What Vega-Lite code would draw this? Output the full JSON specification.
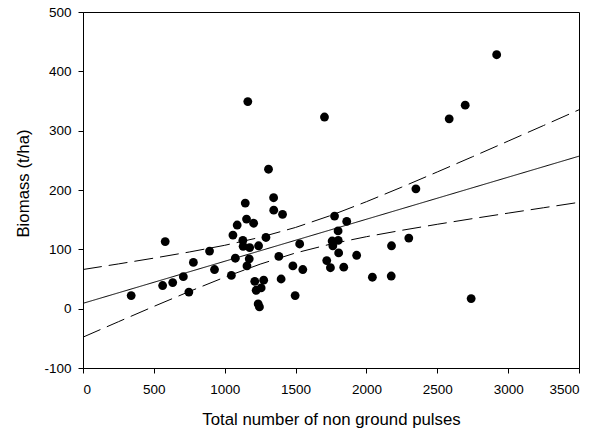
{
  "$schema": "https://vega.github.io/schema/vega-lite/v6.json",
  "autosize": "none",
  "width": 496,
  "height": 356,
  "padding": {"left": 83, "top": 12, "right": 16, "bottom": 63},
  "background": "white",
  "config": {
    "font": "Liberation Sans",
    "view": {"stroke": "#000000", "strokeWidth": 1},
    "axis": {
      "grid": false,
      "domainColor": "#000000",
      "tickColor": "#000000",
      "tickSize": 5,
      "labelColor": "#000000",
      "titleColor": "#000000",
      "labelFont": "Liberation Sans",
      "titleFont": "Liberation Sans",
      "labelFontSize": 13.5,
      "titleFontSize": 16.8,
      "titleFontWeight": "normal"
    }
  },
  "datasets": {
    "points": [
      {"pulses": 340, "biomass": 22},
      {"pulses": 562, "biomass": 39},
      {"pulses": 580, "biomass": 113},
      {"pulses": 633, "biomass": 44},
      {"pulses": 708, "biomass": 54},
      {"pulses": 747, "biomass": 28},
      {"pulses": 779, "biomass": 78},
      {"pulses": 893, "biomass": 97},
      {"pulses": 928, "biomass": 66},
      {"pulses": 1047, "biomass": 56},
      {"pulses": 1058, "biomass": 124},
      {"pulses": 1075, "biomass": 85},
      {"pulses": 1088, "biomass": 141},
      {"pulses": 1128, "biomass": 115},
      {"pulses": 1130, "biomass": 105},
      {"pulses": 1145, "biomass": 178},
      {"pulses": 1154, "biomass": 151},
      {"pulses": 1157, "biomass": 72},
      {"pulses": 1163, "biomass": 349},
      {"pulses": 1173, "biomass": 84},
      {"pulses": 1176, "biomass": 103},
      {"pulses": 1204, "biomass": 144},
      {"pulses": 1212, "biomass": 46},
      {"pulses": 1222, "biomass": 31},
      {"pulses": 1236, "biomass": 8},
      {"pulses": 1239, "biomass": 106},
      {"pulses": 1245, "biomass": 3},
      {"pulses": 1257, "biomass": 35},
      {"pulses": 1275, "biomass": 48},
      {"pulses": 1291, "biomass": 120},
      {"pulses": 1309, "biomass": 235},
      {"pulses": 1345, "biomass": 187},
      {"pulses": 1346, "biomass": 166},
      {"pulses": 1382, "biomass": 88},
      {"pulses": 1398, "biomass": 50},
      {"pulses": 1408, "biomass": 159},
      {"pulses": 1481, "biomass": 72},
      {"pulses": 1497, "biomass": 22},
      {"pulses": 1529, "biomass": 109},
      {"pulses": 1551, "biomass": 66},
      {"pulses": 1704, "biomass": 323},
      {"pulses": 1720, "biomass": 81},
      {"pulses": 1746, "biomass": 69},
      {"pulses": 1758, "biomass": 114},
      {"pulses": 1763, "biomass": 106},
      {"pulses": 1775, "biomass": 156},
      {"pulses": 1800, "biomass": 131},
      {"pulses": 1801, "biomass": 115},
      {"pulses": 1804, "biomass": 94},
      {"pulses": 1840, "biomass": 70},
      {"pulses": 1861, "biomass": 147},
      {"pulses": 1931, "biomass": 90},
      {"pulses": 2042, "biomass": 53},
      {"pulses": 2175, "biomass": 55},
      {"pulses": 2177, "biomass": 106},
      {"pulses": 2299, "biomass": 119},
      {"pulses": 2349, "biomass": 202},
      {"pulses": 2584, "biomass": 320},
      {"pulses": 2697, "biomass": 343},
      {"pulses": 2739, "biomass": 17},
      {"pulses": 2919, "biomass": 428}
    ],
    "lines": [
      {"x": 0, "y": 9, "series": "fit"},
      {"x": 3500, "y": 257, "series": "fit"},
      {"x": 0, "y": 66, "series": "upper"},
      {"x": 250, "y": 75.4, "series": "upper"},
      {"x": 500, "y": 85.2, "series": "upper"},
      {"x": 750, "y": 95.5, "series": "upper"},
      {"x": 1000, "y": 106.8, "series": "upper"},
      {"x": 1250, "y": 120.2, "series": "upper"},
      {"x": 1500, "y": 136.9, "series": "upper"},
      {"x": 1750, "y": 157.2, "series": "upper"},
      {"x": 2000, "y": 180.3, "series": "upper"},
      {"x": 2250, "y": 204.9, "series": "upper"},
      {"x": 2500, "y": 230.4, "series": "upper"},
      {"x": 2750, "y": 256.2, "series": "upper"},
      {"x": 3000, "y": 282.4, "series": "upper"},
      {"x": 3250, "y": 308.7, "series": "upper"},
      {"x": 3500, "y": 335.2, "series": "upper"},
      {"x": 0, "y": -48, "series": "lower"},
      {"x": 250, "y": -22, "series": "lower"},
      {"x": 500, "y": 3.8, "series": "lower"},
      {"x": 750, "y": 28.9, "series": "lower"},
      {"x": 1000, "y": 53, "series": "lower"},
      {"x": 1250, "y": 75, "series": "lower"},
      {"x": 1500, "y": 93.9, "series": "lower"},
      {"x": 1750, "y": 109, "series": "lower"},
      {"x": 2000, "y": 121.3, "series": "lower"},
      {"x": 2250, "y": 132.1, "series": "lower"},
      {"x": 2500, "y": 142.2, "series": "lower"},
      {"x": 2750, "y": 151.8, "series": "lower"},
      {"x": 3000, "y": 161, "series": "lower"},
      {"x": 3250, "y": 170.1, "series": "lower"},
      {"x": 3500, "y": 179.2, "series": "lower"}
    ]
  },
  "layer": [
    {
      "data": {"name": "lines"},
      "mark": {"type": "line", "color": "#000000", "strokeWidth": 1, "clip": true},
      "encoding": {
        "x": {
          "field": "x", "type": "quantitative",
          "scale": {"domain": [0, 3500], "nice": false, "zero": false},
          "axis": {
            "values": [0, 500, 1000, 1500, 2000, 2500, 3000, 3500],
            "labelExpr": "'' + datum.value",
            "title": "Total number of non ground pulses",
            "labelBaseline": "alphabetic",
            "labelPadding": 20,
            "titleBaseline": "alphabetic",
            "titleY": 56
          }
        },
        "y": {
          "field": "y", "type": "quantitative",
          "scale": {"domain": [-100, 500], "nice": false, "zero": false},
          "axis": {
            "values": [-100, 0, 100, 200, 300, 400, 500],
            "labelExpr": "'' + datum.value",
            "title": "Biomass (t/ha)",
            "labelPadding": 7,
            "titleBaseline": "alphabetic",
            "titleAlign": "center",
            "titleX": -55,
            "titleY": 171
          }
        },
        "strokeDash": {
          "field": "series", "type": "nominal",
          "scale": {"domain": ["fit", "upper", "lower"], "range": [[1, 0], [19, 7], [19, 7]]},
          "legend": null
        }
      }
    },
    {
      "data": {"name": "points"},
      "mark": {"type": "circle", "color": "#000000", "opacity": 1, "size": 78},
      "encoding": {
        "x": {"field": "pulses", "type": "quantitative"},
        "y": {"field": "biomass", "type": "quantitative"}
      }
    }
  ]
}
